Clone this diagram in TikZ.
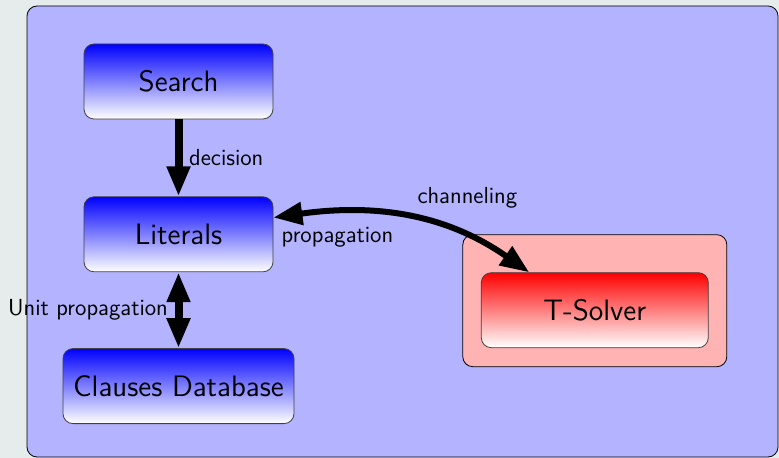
\documentclass[tikz,border=0pt]{standalone}
\usepackage{tikz}
\usetikzlibrary{arrows.meta, positioning}
\definecolor{pagegray}{RGB}{230,235,236}
\definecolor{framefill}{RGB}{179,179,255}
\definecolor{solverfill}{RGB}{255,179,179}
\tikzset{
  block/.style={rectangle, rounded corners=5pt, minimum width=94.5pt,
    minimum height=37.5pt, align=center, draw=black!75,
    font=\sffamily\fontsize{14.8}{17}\selectfont},
  blueblock/.style={block, top color=blue, bottom color=white},
  redblock/.style={block, top color=red, bottom color=white, minimum width=113.5pt},
  solverframe/.style={rectangle, rounded corners=5pt, minimum width=132pt,
    minimum height=66pt, draw=black, fill=solverfill},
  bigarrow/.style={-{Triangle[length=15pt, width=11pt]}, line width=4pt},
  curvearrow/.style={{Triangle[length=14.5pt, width=11pt]}-{Triangle[length=14.5pt, width=11pt]}, line width=3pt},
}
\begin{document}
\begin{tikzpicture}[x=0.5pt, y=-0.5pt, font=\sffamily\fontsize{11.6}{13.5}\selectfont]
  \fill[pagegray] (0,0) rectangle (779,458);
  \useasboundingbox (0,0) rectangle (779,458);
  \draw[fill=framefill, rounded corners=5pt] (27,6) rectangle (778,457);
  % SAT side
  \node[blueblock] (search) at (178.5,81.5) {Search};
  \node[blueblock, below=38.5pt of search] (literals) {Literals};
  \node[blueblock, below=38pt of literals, minimum width=115.5pt] (clauses) {Clauses Database};
  % theory side
  \node[solverframe, anchor=north west] (tframe) at ([xshift=94.5pt]literals.east) {};
  \node[redblock] (tsolver) at ([yshift=-4.75pt]tframe.center) {T-Solver};
  \draw[bigarrow] (search) -- (literals)
    node[midway, right] {decision};
  \draw[bigarrow, {Triangle[length=15pt, width=11pt]}-{Triangle[length=15pt, width=11pt]}] (literals) -- (clauses)
    node[midway, left] {Unit propagation};
  \draw[curvearrow] (literals.10) to[out=8, in=145]
    node[midway, above right] {channeling}
    node[midway, below left, xshift=-2.5pt] {propagation} (tsolver.150);
\end{tikzpicture}
\end{document}
